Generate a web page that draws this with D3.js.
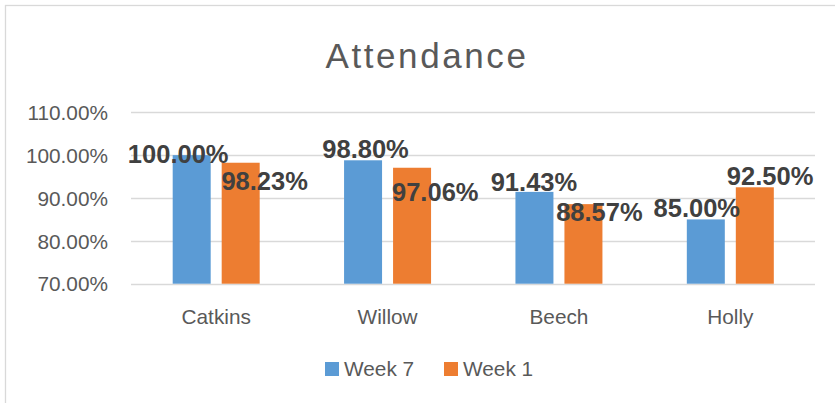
<!DOCTYPE html>
<html>
<head>
<meta charset="utf-8">
<script src="https://cdn.jsdelivr.net/npm/d3@7"></script>
<style>
  html, body { margin: 0; padding: 0; background: #ffffff; }
  svg { display: block; }
</style>
</head>
<body>
<svg id="chart" width="835" height="403"></svg>
<script>
// ---- data ----
const categories = ["Catkins", "Willow", "Beech", "Holly"];
const seriesNames = ["Week 7", "Week 1"];
const week7 = [1.0, 0.988, 0.9143, 0.85];
const week1 = [0.9823, 0.9706, 0.8857, 0.925];
const yTicks = [0.7, 0.8, 0.9, 1.0, 1.1];

// ---- layout / style (not data) ----
const colors = ["#5b9bd5", "#ed7d31"];
// label nudges (dx from bar centre, dy of baseline from bar top), per series per category
const labelDx = [[-13.5, 2.5, -0.5, -9], [24, 23.2, 16, 15.3]];
const labelDy = [[8, -2, -1, -2.5], [27, 33, 16.7, -2]];

const svg = d3.select("#chart");
const W = 835, H = 403;

// chart frame
svg.append("rect")
  .attr("x", 5.5).attr("y", 5.5)
  .attr("width", W + 20).attr("height", H + 20)
  .attr("fill", "#ffffff").attr("stroke", "#d9d9d9").attr("stroke-width", 1.3);

const x0 = d3.scaleBand().domain(categories).range([130.5, 816])
  .paddingInner(0.4924).paddingOuter(0.2462);
const x1 = d3.scaleBand().domain(seriesNames).range([0, x0.bandwidth()])
  .paddingInner(0.2245).paddingOuter(0);
const y = d3.scaleLinear().domain([0.7, 1.1]).range([283.7, 112.3]);
const fmt = d3.format(".2%");

// gridlines
svg.append("g").selectAll("line").data(yTicks).join("line")
  .attr("x1", 131).attr("x2", 815)
  .attr("y1", d => Math.round(y(d)) + 0.5).attr("y2", d => Math.round(y(d)) + 0.5)
  .attr("stroke", "#d9d9d9").attr("stroke-width", 1.3);

// y axis labels
const yAxis = d3.axisLeft(y).tickValues(yTicks).tickFormat(fmt).tickSize(0).tickPadding(0);
const gy = svg.append("g").attr("transform", "translate(108,0)").call(yAxis);
gy.select(".domain").remove();
gy.selectAll("text")
  .attr("font-family", "'Liberation Sans', Arial, sans-serif")
  .attr("font-size", 20.8).attr("fill", "#595959").attr("dy", "0.35em");

// x axis labels
const xAxis = d3.axisBottom(x0).tickSize(0).tickPadding(0);
const gx = svg.append("g").attr("transform", "translate(0,308)").call(xAxis);
gx.select(".domain").remove();
gx.selectAll("text")
  .attr("font-family", "'Liberation Sans', Arial, sans-serif")
  .attr("font-size", 20.8).attr("fill", "#595959").attr("dy", "0.75em");

// bars
const series = [week7, week1];
const groups = svg.append("g").selectAll("g").data(series).join("g")
  .attr("fill", (d, i) => colors[i]);
groups.each(function(vals, si) {
  d3.select(this).selectAll("rect").data(vals).join("rect")
    .attr("x", (v, ci) => x0(categories[ci]) + x1(seriesNames[si]))
    .attr("y", v => y(v))
    .attr("width", x1.bandwidth())
    .attr("height", v => y(0.7) - y(v));
});

// data labels
series.forEach((vals, si) => {
  svg.append("g").selectAll("text").data(vals).join("text")
    .attr("x", (v, ci) => x0(categories[ci]) + x1(seriesNames[si]) + x1.bandwidth() / 2 + labelDx[si][ci])
    .attr("y", (v, ci) => y(v) + labelDy[si][ci])
    .attr("text-anchor", "middle")
    .attr("font-family", "'Liberation Sans', Arial, sans-serif")
    .attr("font-weight", "bold")
    .attr("font-size", 25.5)
    .attr("fill", "#404040")
    .text(v => fmt(v));
});

// title
svg.append("text")
  .attr("x", 427).attr("y", 68.3)
  .attr("text-anchor", "middle")
  .attr("font-family", "'Comic Sans MS', 'Liberation Sans', Arial, sans-serif")
  .attr("font-size", 35)
  .attr("letter-spacing", 2.6)
  .attr("fill", "#595959")
  .text("Attendance");

// legend
const legendX = [325, 444];
const lg = svg.append("g").selectAll("g").data(seriesNames).join("g")
  .attr("transform", (d, i) => `translate(${legendX[i]},362)`);
lg.append("rect").attr("width", 14).attr("height", 14)
  .attr("fill", (d, i) => colors[i]);
lg.append("text").attr("x", 19).attr("y", 14)
  .attr("font-family", "'Liberation Sans', Arial, sans-serif")
  .attr("font-size", 20.8).attr("fill", "#595959")
  .text(d => d);
</script>
</body>
</html>
